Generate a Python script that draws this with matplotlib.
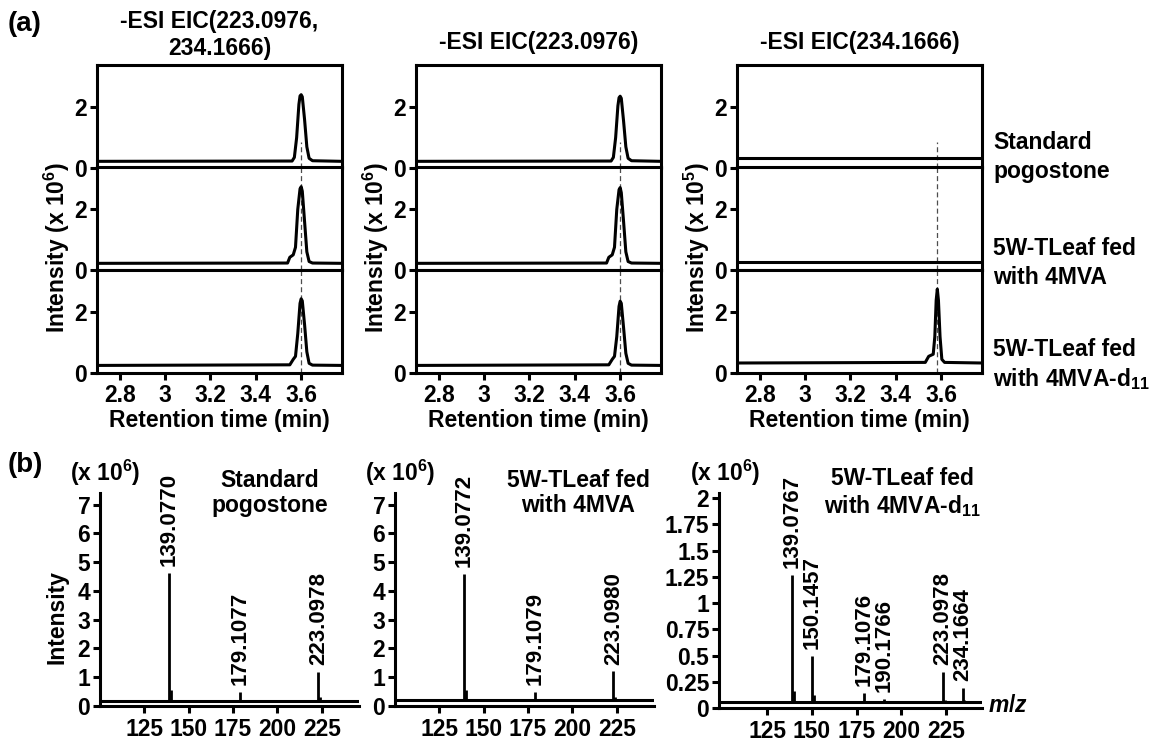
import matplotlib.pyplot as plt
from matplotlib.ticker import FuncFormatter

plt.rcParams['font.family'] = ['Liberation Sans', 'DejaVu Sans']
plt.rcParams['font.weight'] = 'bold'
plt.rcParams['mathtext.fontset'] = 'custom'
plt.rcParams['mathtext.rm'] = 'Liberation Sans:bold'
plt.rcParams['mathtext.it'] = 'Liberation Sans:italic:bold'
plt.rcParams['mathtext.bf'] = 'Liberation Sans:bold'

# ---- (a) extracted ion chromatograms ----
eic_titles = ["-ESI EIC(223.0976,\n234.1666)", "-ESI EIC(223.0976)", "-ESI EIC(234.1666)"]
eic_units = ["(x 10$^{6}$)", "(x 10$^{6}$)", "(x 10$^{5}$)"]
sample_names = ["Standard\npogostone", "5W-TLeaf fed\nwith 4MVA", "5W-TLeaf fed\nwith 4MVA-d$_{11}$"]
rt_ticks = [2.8, 3.0, 3.2, 3.4, 3.6]

# column 1 : EIC(223.0976, 234.1666)
c1_std_t = [2.70, 3.56, 3.57, 3.58, 3.59, 3.595, 3.60, 3.605, 3.615, 3.625, 3.635, 3.65, 3.78]
c1_std_y = [0.22, 0.23, 0.35, 1.0, 2.1, 2.38, 2.42, 2.35, 1.6, 0.7, 0.32, 0.24, 0.22]
c1_mva_t = [2.70, 3.54, 3.55, 3.565, 3.575, 3.585, 3.595, 3.60, 3.605, 3.615, 3.625, 3.635, 3.65, 3.78]
c1_mva_y = [0.22, 0.23, 0.42, 0.50, 0.75, 2.0, 2.68, 2.75, 2.6, 1.6, 0.6, 0.28, 0.23, 0.22]
c1_d11_t = [2.70, 3.55, 3.565, 3.575, 3.585, 3.595, 3.60, 3.605, 3.615, 3.625, 3.635, 3.65, 3.78]
c1_d11_y = [0.25, 0.27, 0.45, 0.55, 1.3, 2.3, 2.45, 2.38, 1.6, 0.7, 0.32, 0.26, 0.25]
# column 2 : EIC(223.0976)
c2_std_t = [2.70, 3.56, 3.57, 3.58, 3.59, 3.595, 3.60, 3.605, 3.615, 3.625, 3.635, 3.65, 3.78]
c2_std_y = [0.22, 0.23, 0.35, 1.0, 2.05, 2.32, 2.37, 2.3, 1.55, 0.7, 0.32, 0.24, 0.22]
c2_mva_t = [2.70, 3.54, 3.55, 3.565, 3.575, 3.585, 3.595, 3.60, 3.605, 3.615, 3.625, 3.635, 3.65, 3.78]
c2_mva_y = [0.22, 0.23, 0.42, 0.50, 0.75, 2.0, 2.65, 2.72, 2.55, 1.6, 0.6, 0.28, 0.23, 0.22]
c2_d11_t = [2.70, 3.55, 3.565, 3.575, 3.585, 3.595, 3.60, 3.605, 3.615, 3.625, 3.635, 3.65, 3.78]
c2_d11_y = [0.25, 0.27, 0.45, 0.55, 1.2, 2.2, 2.37, 2.3, 1.5, 0.65, 0.32, 0.26, 0.25]
# column 3 : EIC(234.1666)
c3_std_t = [2.70, 3.78]
c3_std_y = [0.33, 0.33]
c3_mva_t = [2.70, 3.78]
c3_mva_y = [0.27, 0.27]
c3_d11_t = [2.70, 3.53, 3.545, 3.565, 3.572, 3.578, 3.583, 3.588, 3.595, 3.603, 3.615, 3.78]
c3_d11_y = [0.33, 0.35, 0.55, 0.62, 1.2, 2.4, 2.77, 2.4, 1.2, 0.45, 0.35, 0.33]
peak_rt = [3.60, 3.60, 3.583]

eic_traces = [
    [(c1_std_t, c1_std_y), (c1_mva_t, c1_mva_y), (c1_d11_t, c1_d11_y)],
    [(c2_std_t, c2_std_y), (c2_mva_t, c2_mva_y), (c2_d11_t, c2_d11_y)],
    [(c3_std_t, c3_std_y), (c3_mva_t, c3_mva_y), (c3_d11_t, c3_d11_y)],
]

# ---- (b) mass spectra ----
ms_titles = ["Standard\npogostone", "5W-TLeaf fed\nwith 4MVA", "5W-TLeaf fed\nwith 4MVA-d$_{11}$"]
ms_xticks = [125, 150, 175, 200, 225]

s1_mz = [139.0770, 140.08, 179.1077, 223.0978, 224.10]
s1_int = [4.62, 0.55, 0.48, 1.17, 0.30]
s1_lab = ["139.0770", "", "179.1077", "223.0978", ""]
s1_base = 0.17

s2_mz = [139.0772, 140.08, 179.1079, 223.0980, 224.10]
s2_int = [4.60, 0.55, 0.48, 1.20, 0.30]
s2_lab = ["139.0772", "", "179.1079", "223.0980", ""]
s2_base = 0.20

s3_mz = [139.0767, 140.08, 150.1457, 151.15, 179.1076, 190.1766, 223.0978, 224.10, 234.1664, 235.17]
s3_int = [1.264, 0.16, 0.50, 0.12, 0.14, 0.09, 0.34, 0.08, 0.19, 0.08]
s3_lab = ["139.0767", "", "150.1457", "", "179.1076", "190.1766", "223.0978", "", "234.1664", ""]
s3_base = 0.06

spectra = [(s1_mz, s1_int, s1_lab, s1_base), (s2_mz, s2_int, s2_lab, s2_base), (s3_mz, s3_int, s3_lab, s3_base)]
ms_yticks = [list(range(0, 8)), list(range(0, 8)), [0, 0.25, 0.5, 0.75, 1, 1.25, 1.5, 1.75, 2]]
ms_ylim = [7.4, 7.4, 2.05]

W, H = 1156, 744
fig = plt.figure(figsize=(W / 100, H / 100), dpi=100)


def box(l, t, r, b):
    return [l / W, 1 - b / H, (r - l) / W, (b - t) / H]


def ftext(x, y, s, **kw):
    fig.text(x / W, 1 - y / H, s, **kw)


fmt = FuncFormatter(lambda v, p: f"{v:g}")
LW = 2.2
FS = 16.5

col_left = [97, 416, 737]
col_w = 245
row_top = [65, 167, 270]
row_h = 103

for c in range(3):
    for r in range(3):
        ax = fig.add_axes(box(col_left[c], row_top[r], col_left[c] + col_w, row_top[r] + row_h))
        t, y = eic_traces[c][r]
        ax.plot(t, y, color='black', lw=2.2, solid_joinstyle='round')
        ax.set_xlim(2.7, 3.78)
        ax.set_ylim(0, 3.4)
        ax.set_yticks([0, 2])
        ax.yaxis.set_major_formatter(fmt)
        ymax = 0.85 / 3.4 if r == 0 else 1
        ax.axvline(peak_rt[c], ymin=0, ymax=ymax, color='0.3', lw=0.9, ls=(0, (4, 2.5)), zorder=0)
        for s in ax.spines.values():
            s.set_linewidth(LW)
        ax.tick_params(axis='y', direction='out', length=5, width=LW, labelsize=FS, pad=2)
        if r < 2:
            ax.tick_params(axis='x', bottom=False, labelbottom=False)
        else:
            ax.set_xticks(rt_ticks)
            ax.xaxis.set_major_formatter(fmt)
            ax.tick_params(axis='x', direction='out', length=5, width=LW, labelsize=FS, pad=3)
    cx = col_left[c] + col_w / 2
    if c == 0:
        ftext(cx, 35, eic_titles[c], ha='center', va='center', fontsize=FS, linespacing=1.25)
    else:
        ftext(cx, 42, eic_titles[c], ha='center', va='center', fontsize=FS)
    ftext(cx, 420, "Retention time (min)", ha='center', va='center', fontsize=FS)
    ftext(col_left[c] - 40, 248, "Intensity " + eic_units[c], ha='center', va='center',
          rotation=90, fontsize=FS)

for r, name in enumerate(sample_names):
    ftext(993, [157, 263, 365][r], name, ha='left', va='center', fontsize=FS, linespacing=1.3)

ftext(8, 24, "(a)", ha='left', va='center', fontsize=20)
ftext(8, 465, "(b)", ha='left', va='center', fontsize=20)

# spectra panels
ms_left = [100, 395, 719]
ms_right = [359, 654, 982]
ms_bottom = [706, 706, 708]
ms_xlim = [(100, 246), (100, 246), (98, 245)]
unit_x = [105, 400, 725]
title_x = [270, 578, 902]

for i in range(3):
    ax = fig.add_axes(box(ms_left[i], 493, ms_right[i], ms_bottom[i]))
    mz, inten, labs, base = spectra[i]
    ax.vlines(mz, base, inten, color='black', lw=2.0)
    ax.hlines(base, ms_xlim[i][0], ms_xlim[i][1], color='black', lw=2.2)
    for m, v, lab in zip(mz, inten, labs):
        if lab:
            ax.annotate(lab, (m, v), xytext=(0, 5), textcoords='offset points', rotation=90,
                        ha='center', va='bottom', fontsize=16)
    ax.set_xlim(*ms_xlim[i])
    ax.set_ylim(0, ms_ylim[i])
    ax.set_xticks(ms_xticks)
    ax.set_yticks(ms_yticks[i])
    ax.yaxis.set_major_formatter(fmt)
    ax.spines['top'].set_visible(False)
    ax.spines['right'].set_visible(False)
    for s in ('left', 'bottom'):
        ax.spines[s].set_linewidth(LW)
    ax.tick_params(axis='both', direction='out', length=5, width=LW, labelsize=FS, pad=2)
    ax.tick_params(axis='x', pad=4)
    ftext(unit_x[i], 473, "(x 10$^{6}$)", ha='center', va='center', fontsize=FS)
    ftext(title_x[i], 493, ms_titles[i], ha='center', va='center', fontsize=FS, linespacing=1.15)

ftext(57, 617, "Intensity", ha='center', va='center', rotation=90, fontsize=FS)
ftext(988, 705, "$m/z$", ha='left', va='center', fontsize=FS)

fig.savefig("out.png", dpi=100)
